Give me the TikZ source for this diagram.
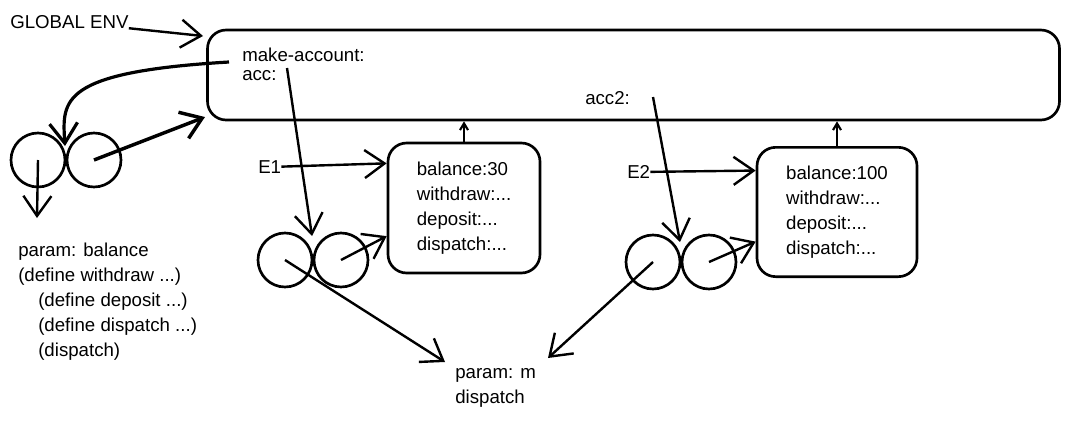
\documentclass[tikz,border=0pt]{standalone}
\usepackage{fontspec}
\setmainfont{Liberation Sans}
\usetikzlibrary{arrows.meta}

\tikzset{
  lbl/.style={inner sep=0pt, anchor=west, font=\fontsize{14}{18.75}\selectfont},
  frame/.style={circle, draw, line width=2pt, minimum size=40.5pt, inner sep=0pt},
  envbox/.style={draw, rounded corners=14pt, line width=2pt, align=left, font=\fontsize{14}{18.75}\selectfont},
  arr/.style={-{Straight Barb[length=15pt,width=21pt]}, line width=1.8pt},
  uparr/.style={-{Straight Barb[length=5pt,width=6pt]}, line width=1.6pt}
}

\begin{document}
\begin{tikzpicture}[x=0.75pt, y=-0.75pt]
\useasboundingbox (0,0) rectangle (1069,425);
\draw 	(633.5,75) node[envbox, minimum width=639pt, minimum height=67.5pt](genv){}
		(10,22) node[lbl](genvlbl){GLOBAL ENV}
		(242,55) node[lbl](mkacc){make-account:}
		(242,76) node[lbl](acc){acc:}
		(585,98) node[lbl](acctwo){acc2:};

\draw 	(38,160) node[frame](mkl){}   (94,160) node[frame](mkr){}
		(285,260) node[frame](accl){}  (341,260) node[frame](accr){}
		(653,262) node[frame](acctwol){}  (709,262) node[frame](acctwor){};

\draw 	(464,208) node[envbox, minimum width=114pt, minimum height=97.5pt](eone){balance:30\\withdraw:...\\deposit:...\\dispatch:...}
		(837,212) node[envbox, minimum width=120pt, minimum height=97pt](etwo){balance:100\\withdraw:...\\deposit:...\\dispatch:...}
		(258,167) node[lbl](eonelbl){E1}
		(627,172) node[lbl](etwolbl){E2};

\draw 	(18,243) node[lbl, anchor=north west, align=left](mkparam){param: balance\\(define withdraw ...)\\\hspace*{15pt}(define deposit ...)\\\hspace*{15pt}(define dispatch ...)\\\hspace*{15pt}(dispatch)}
		(455,368) node[lbl, anchor=north west, align=left](mparam){param: m\\dispatch};

\coordinate (genvin) at (203,36);
\coordinate (mkaccout) at (229,62);
\coordinate (mkin) at (65,146);
\coordinate (mkout) at (37,218);
\coordinate (genvsw) at (205,117);
\coordinate (accout) at (287,68);
\coordinate (accin) at (312,236);
\coordinate (acctwoout) at (653,97);
\coordinate (acctwoin) at (680,242);
\coordinate (mpin) at (445,362);
\coordinate (mpintwo) at (548,358);

\draw[arr, line width=2.4pt] (mkaccout) .. controls (60,72) and (62,100) .. (mkin);
\path[arr]
    (genvlbl) edge (genvin)
    (mkl.center) edge (mkout)
    (mkr.center) edge[line width=2.6pt] (genvsw)
    (accout) edge (accin)
    (accr.center) edge (eone.200)
    (accl.center) edge (mpin)
    (eonelbl) edge (eone.150)
    (acctwoout) edge (acctwoin)
    (acctwor.center) edge (etwo.200)
    (acctwol.center) edge (mpintwo)
    (etwolbl) edge (etwo.153);
\path[uparr]
    (eone.north) edge (eone.north |- genv.south)
    (etwo.north) edge (etwo.north |- genv.south);
\end{tikzpicture}
\end{document}
